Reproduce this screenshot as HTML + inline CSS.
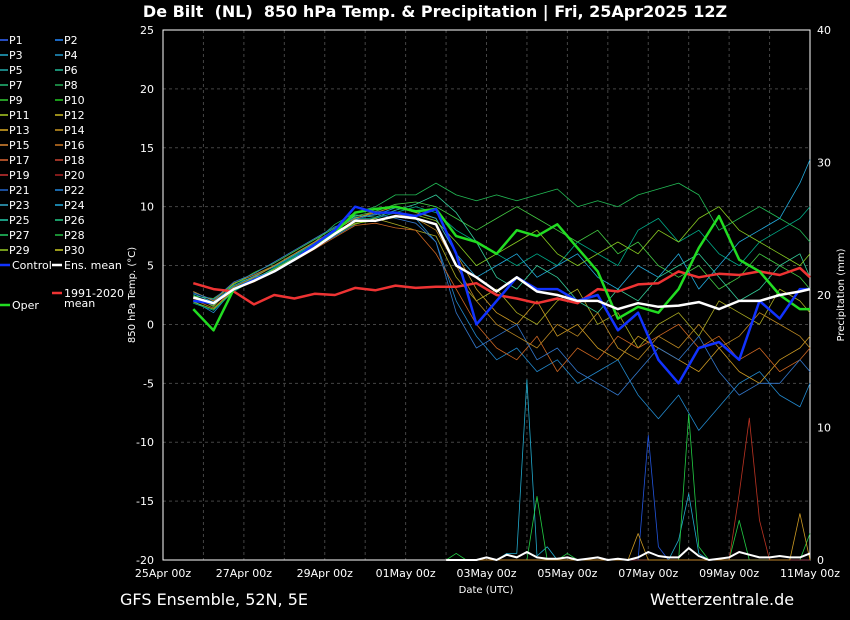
<!DOCTYPE html>
<html><head><meta charset="utf-8">
<style>
html,body{margin:0;padding:0;background:#000;}
body{width:850px;height:620px;overflow:hidden;font-family:"DejaVu Sans","Liberation Sans",sans-serif;}
svg text{font-family:"DejaVu Sans","Liberation Sans",sans-serif;}
</style></head>
<body>
<svg id="chart" width="850" height="620" xmlns="http://www.w3.org/2000/svg" style="display:block">
<rect width="850" height="620" fill="#000"/>
<text x="435" y="17" fill="#fff" font-size="16" font-weight="bold" text-anchor="middle" xml:space="preserve">De Bilt  (NL)  850 hPa Temp. &amp; Precipitation | Fri, 25Apr2025 12Z</text>
<text x="120" y="605" fill="#fff" font-size="16">GFS Ensemble, 52N, 5E</text>
<text x="650" y="605" fill="#fff" font-size="16">Wetterzentrale.de</text>
<g id="grid"></g><g id="axes"></g><g id="series"></g><g id="legend"></g>
</svg>
<script>
const times=[0.75,1.25,1.75,2.25,2.75,3.25,3.75,4.25,4.75,5.25,5.75,6.25,6.75,7.25,7.75,8.25,8.75,9.25,9.75,10.25,10.75,11.25,11.75,12.25,12.75,13.25,13.75,14.25,14.75,15.25,15.75,16];
const ensMean=[2.3,1.8,3,3.7,4.5,5.5,6.5,7.7,8.8,8.8,9.2,9.0,8.5,5.0,4.0,2.8,4.0,2.8,2.5,2.0,2.0,1.3,1.8,1.5,1.6,1.9,1.3,2.0,2.0,2.5,2.8,3.0];
const control=[2.0,1.8,3,3.8,4.5,5.5,6.8,8,10,9.5,9.5,9.2,9.8,6,0,2,4,3,3,2,2.5,-0.5,1,-3,-5,-2,-1.5,-3,2,0.5,3,3];
const oper=[1.3,-0.5,3,3.8,4.5,5.5,6.8,7.8,9.5,9.8,10,9.6,9.8,7.5,7,6,8,7.5,8.5,6.5,4.5,0.5,1.5,1,3,6.5,9.2,5.5,4.5,2.5,1.3,1.3];
const clim=[3.5,3.0,2.8,1.7,2.5,2.2,2.6,2.5,3.1,2.9,3.3,3.1,3.2,3.2,3.5,2.5,2.2,1.8,2.2,1.8,3.0,2.8,3.4,3.5,4.5,4.0,4.3,4.2,4.5,4.2,4.8,4.0];
const m1=[2.5,1.5,3.5,4,5,6,7,8.5,9.5,10,11,11,12,11,10.5,11,10.5,11,11.5,10,10.5,10,11,11.5,12,11,8,9,10,9,8,7];
const m2=[2,1,3,4,4.5,5.5,6.5,7.5,8.5,9,9.5,9,7,2,-1,-3,-2,-4,-3,-5,-4,-3,-6,-8,-6,-9,-7,-5,-4,-6,-7,-5];
const m3=[2.8,2,3.5,4.2,5,6,7,8,9,9.5,10,9.5,9,6,3,1,0,2,-1,0,-2,-3,-1,-2,-3,-4,-2,-4,-5,-3,-2,-1];
const m4=[1.8,1.2,2.8,3.8,4.8,5.8,6.8,8,9,9,9.5,10,9.5,8,7,6,5,6,5,7,6,5,8,9,7,8,6,5,7,8,9,10];
const m5=[2.2,1.6,3.2,4,5,6,7,8,8.5,9,8.5,8,7.5,4,2,3,1,0,2,3,0,1,-2,0,1,-1,2,1,0,3,2,1];
const m6=[2.4,2.2,3.4,4.4,5.2,6.2,7.2,8.2,9.2,9.6,10.2,10.4,10,9,8,9,10,9,8,7,8,6,7,5,4,5,3,4,6,5,4,3];
const m7=[2.1,1.4,3,3.6,4.6,5.4,6.4,7.4,8.4,8.6,8.2,8.0,6,3,0,-2,-3,-1,-4,-2,-3,-1,-2,-1,0,-2,-1,-3,-2,-4,-3,-2];
const m8=[2.6,1.9,3.3,4.1,4.9,5.9,6.9,8.1,9.1,9.3,9.9,9.6,9,6,4,5,6,4,5,6,4,3,5,4,6,3,5,7,8,9,12,14];
const m9=[2.0,1.7,3.1,3.9,4.7,5.7,6.7,7.9,9.3,9.1,9.7,10.2,11,9.5,7,4,3,5,4,2,1,3,2,4,5,6,4,2,3,5,6,4];
const m10=[2.7,2.1,3.6,4.3,5.3,6.3,7.3,8.3,8.9,9.4,9.0,8.6,7,1,-2,-1,0,-3,-2,-4,-5,-6,-4,-2,-3,-1,-4,-6,-5,-5,-3,-4];
const m11=[1.9,1.3,2.9,3.7,4.7,5.6,6.6,7.6,8.6,8.8,9.1,9.3,8.8,7,5,6,7,8,6,5,6,7,6,8,7,9,10,8,7,6,5,6];
const m12=[2.3,1.8,3.2,4.0,5.0,6.0,7.0,8.0,9.0,9.6,9.4,9.0,8,5,2,0,-1,-2,0,-1,1,-2,-3,-1,-2,0,-2,-1,1,0,-1,-2];
const precipTimes=[7,7.25,7.5,7.75,8,8.25,8.5,8.75,9,9.25,9.5,9.75,10,10.25,10.5,10.75,11,11.25,11.5,11.75,12,12.25,12.5,12.75,13,13.25,13.5,13.75,14,14.25,14.5,14.75,15,15.25,15.5,15.75,16];
const precipCyan=[0,0,0,0,0,0,0.5,0.5,13.6,0.3,1,0,0,0,0,0,0,0,0,0,0,0,0,1.5,5,0.5,0,0,0,0,0,0,0,0,0,0,0];
const precipGreen=[0,0.5,0,0,0,0,0,0,0,4.8,0,0,0.5,0,0,0,0,0,0,0,0,0,0,0,11,1,0,0,0,3,0,0,0,0,0,0,2];
const precipBlue=[0,0,0,0,0,0,0,0,0,0,0,0,0,0,0,0,0,0,0,0,9.4,1,0,0,0,0,0,0,0,0,0,0,0,0,0,0,0];
const precipRed=[0,0,0,0,0,0,0,0,0,0,0,0,0,0,0,0,0,0,0,0,0,0,0,0,0,0,0,0,0,5,10.7,3,0,0,0,0,0];
const precipOrange=[0,0,0,0,0,0,0,0,0,0,0,0,0,0,0,0,0,0,0,2,0,0,0,0,0,0,0,0,0,0,0,0,0,0,0,3.5,0];
const precipMean=[0,0,0,0,0.2,0,0.4,0.2,0.6,0.2,0.1,0.1,0.2,0,0.1,0.2,0,0.1,0,0.2,0.6,0.3,0.2,0.2,0.9,0.3,0,0.1,0.2,0.6,0.4,0.2,0.2,0.3,0.2,0.2,0.5];
const yTicks=[25,20,15,10,5,0,-5,-10,-15,-20];
const pTicks=[40,30,20,10,0];
const xTickDays=[0,2,4,6,8,10,12,14,16];
const xTickLabels=["25Apr 00z","27Apr 00z","29Apr 00z","01May 00z","03May 00z","05May 00z","07May 00z","09May 00z","11May 00z"];

const X0=163,X1=810,Y0=30,Y1=560;
const xs=t=>X0+(X1-X0)*t/16;
const ys=v=>Y0+(25-v)*(Y1-Y0)/45;
const yp=p=>Y1-p*(Y1-Y0)/40;
const NS="http://www.w3.org/2000/svg";
function mk(tag,attrs,parent,txt){const e=document.createElementNS(NS,tag);for(const k in attrs)e.setAttribute(k,attrs[k]);if(txt!==undefined)e.textContent=txt;parent.appendChild(e);return e;}
const grid=document.getElementById('grid'),axes=document.getElementById('axes'),ser=document.getElementById('series'),leg=document.getElementById('legend');

for(let d=1;d<16;d++){const l=mk('line',{x1:xs(d),x2:xs(d),y1:Y0,y2:Y1,stroke:'#444','stroke-dasharray':'3,3','stroke-width':1},grid);

}
yTicks.forEach(v=>{const l=mk('line',{x1:X0,x2:X1,y1:ys(v),y2:ys(v),stroke:'#444','stroke-dasharray':'3,3','stroke-width':1},grid);


const t=mk('text',{x:154,y:ys(v)+4,fill:'#fff','font-size':11,'text-anchor':'end'},axes,String(v));

});
pTicks.forEach(p=>{const t=mk('text',{x:817,y:yp(p)+4,fill:'#fff','font-size':11},axes,String(p));

});
xTickDays.forEach((d,i)=>{const t=mk('text',{x:xs(d),y:577,fill:'#fff','font-size':11,'text-anchor':'middle'},axes,xTickLabels[i]);

});
const fr=mk('rect',{x:X0,y:Y0,width:X1-X0,height:Y1-Y0,fill:'none',stroke:'#fff','stroke-width':1},axes);


const xt=mk('text',{x:486,y:593,fill:'#fff','font-size':10,'text-anchor':'middle'},axes,'Date (UTC)');


const yt=mk('text',{x:0,y:0,fill:'#fff','font-size':10,'text-anchor':'middle',transform:'translate(135,295) rotate(-90)'},axes,'850 hPa Temp. (°C)');


const yt2=mk('text',{x:0,y:0,fill:'#fff','font-size':10,'text-anchor':'middle',transform:'translate(844,295) rotate(-90)'},axes,'Precipitation (mm)');



function line(vals,tArr,yfn,color,w,name){const pts=vals.map((v,i)=>xs(tArr[i]).toFixed(1)+','+yfn(v).toFixed(1)).join(' ');
const p=mk('polyline',{points:pts,fill:'none',stroke:color,'stroke-width':w,'stroke-linejoin':'round'},ser);

}
const members=[m1,m2,m3,m4,m5,m6,m7,m8,m9,m10,m11,m12];
const mColors=['#22bb55','#2288cc','#cc9922','#00aa88','#aaaa22','#44cc44','#cc6622','#22aadd','#33cc99','#3377cc','#88cc22','#bb8822'];
members.forEach((m,i)=>line(m,times,ys,mColors[i],0.8,'member-line'));
line(precipCyan,precipTimes,yp,'#22aacc',0.8,'precip-member-line');
line(precipGreen,precipTimes,yp,'#22cc44',0.8,'precip-member-line');
line(precipBlue,precipTimes,yp,'#2255dd',0.8,'precip-member-line');
line(precipRed,precipTimes,yp,'#bb3322',0.8,'precip-member-line');
line(precipOrange,precipTimes,yp,'#cc9922',0.8,'precip-member-line');
line(precipMean,precipTimes,yp,'#fff',2,'precip-mean-line');
line(clim,times,ys,'#ee3333',2.5,'climate-mean-line');
line(oper,times,ys,'#22dd22',2.5,'oper-line');
line(control,times,ys,'#1133ff',2.5,'control-line');
line(ensMean,times,ys,'#fff',2.5,'ens-mean-line');

const legC=['#3366ff','#2288ff','#22aacc','#2299cc','#22aaaa','#22bb99','#22bb77','#22aa55','#33cc33','#22cc22','#aacc22','#ccbb22','#ddaa22','#cc9922','#dd8833','#cc7722','#dd6633','#cc4433','#cc3333','#aa2222','#2266cc','#2288dd','#33aacc','#22aadd','#22ccaa','#22cc88','#22cc66','#22bb44','#99cc22','#cccc22'];
for(let i=0;i<30;i++){const col=i%2,row=Math.floor(i/2);const x=col?55:0,y=40+row*15;
const l=mk('line',{x1:x,x2:x+8,y1:y,y2:y,stroke:legC[i],'stroke-width':1.5},leg);


const t=mk('text',{x:x+9,y:y+4,fill:'#fff','font-size':11},leg,'P'+(i+1));

}
[[0,265,'#1133ff','Control'],[52,265,'#fff','Ens. mean'],[52,293,'#ee3333','1991-2020'],[0,305,'#22dd22','Oper']].forEach(e=>{
const l=mk('line',{x1:e[0],x2:e[0]+10,y1:e[1],y2:e[1],stroke:e[2],'stroke-width':2.5},leg);


const t=mk('text',{x:e[0]+12,y:e[1]+4,fill:'#fff','font-size':11},leg,e[3]);

});
const tm=mk('text',{x:64,y:307,fill:'#fff','font-size':11},leg,'mean');


</script>
</body></html>
